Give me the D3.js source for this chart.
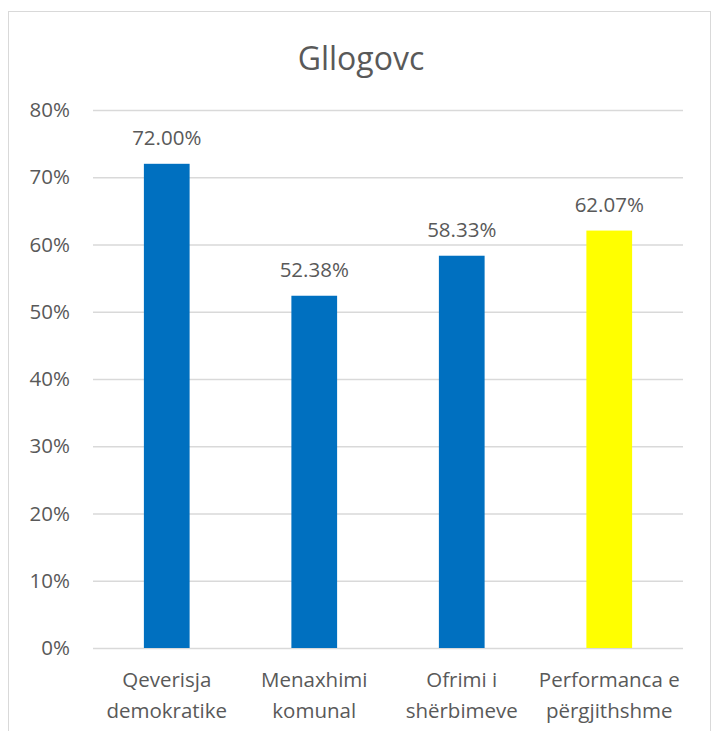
<!DOCTYPE html>
<html><head><meta charset="utf-8">
<script src="https://cdn.jsdelivr.net/npm/d3@7"></script>
<style>body{margin:0;background:#fff}text{font-family:"Open Sans",sans-serif;fill:#595959}</style>
</head><body><svg id="c" width="712" height="731"></svg>
<script>
const categories = [["Qeverisja","demokratike"],["Menaxhimi","komunal"],["Ofrimi i","shërbimeve"],["Performanca e","përgjithshme"]];
const values = [0.72, 0.5238, 0.5833, 0.6207];
const colors = ["#0070C0","#0070C0","#0070C0","#FFFF00"];
const yTicks = [0,0.1,0.2,0.3,0.4,0.5,0.6,0.7,0.8];
const title = "Gllogovc";

const svg = d3.select("#c");
svg.append("rect").attr("x",8.5).attr("y",11.5).attr("width",702).attr("height",730).attr("fill","#fff").attr("stroke","#d9d9d9");
const m = {l:93,r:683,t:110,b:648};
const x = d3.scaleBand().domain(d3.range(values.length)).range([m.l,m.r]).paddingInner(0.69).paddingOuter(0.345);
const y = d3.scaleLinear().domain([0,0.8]).range([m.b,m.t]);
svg.append("text").attr("x",361).attr("y",70).attr("text-anchor","middle").style("font-size","32px").text(title);
const ya = svg.append("g").attr("transform",`translate(${m.l},0)`).call(d3.axisLeft(y).tickValues(yTicks).tickFormat(d3.format(".0%")).tickSize(-(m.r-m.l)).tickPadding(23));
ya.select(".domain").remove();
ya.selectAll(".tick line").attr("stroke","#d9d9d9").attr("stroke-width",1.3);
ya.selectAll(".tick text").style("font-size","20.5px").attr("fill","#595959").style("font-family","'Open Sans',sans-serif");
svg.selectAll(".bar").data(values).join("rect").attr("x",(d,i)=>x(i)).attr("width",x.bandwidth()).attr("y",d=>y(d)).attr("height",d=>y(0)-y(d)).attr("fill",(d,i)=>colors[i]);
svg.selectAll(".lbl").data(values).join("text").attr("x",(d,i)=>x(i)+x.bandwidth()/2).attr("y",d=>y(d)-19).attr("text-anchor","middle").style("font-size","20.5px").text(d=>d3.format(".2%")(d));
categories.forEach((c,i)=>{
  c.forEach((line,j)=>{
    svg.append("text").attr("x",x(i)+x.bandwidth()/2).attr("y",687+j*31).attr("text-anchor","middle").style("font-size","20.5px").text(line);
  });
});
</script></body></html>
